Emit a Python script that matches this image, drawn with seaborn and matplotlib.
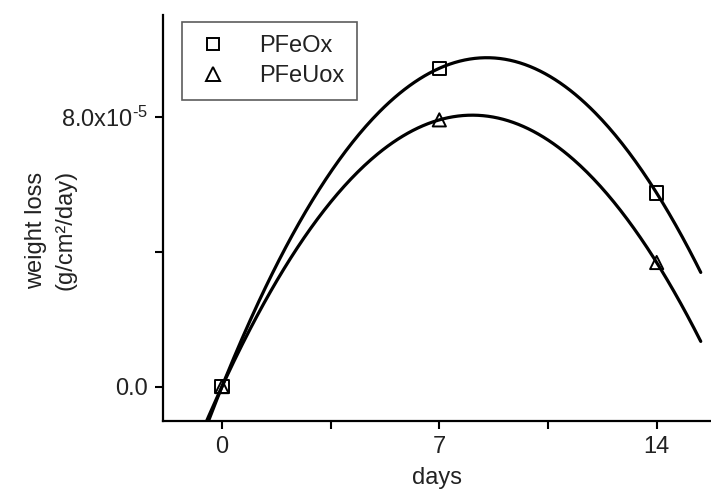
import numpy as np
import pandas as pd
import matplotlib
matplotlib.use("Agg")
import matplotlib.pyplot as plt
from matplotlib.ticker import FixedLocator, FuncFormatter
from matplotlib.lines import Line2D
import seaborn as sns

# ---- data ----
days = [0, 7, 14]
pfeox = [0.0, 9.44e-5, 5.74e-5]
pfeuox = [0.0, 7.91e-5, 3.68e-5]
series_names = ["PFeOx", "PFeUox"]
x_tick_labels = {0: "0", 7: "7", 14: "14"}
y_tick_labels = {0.0: "0.0", 8e-5: r"8.0x10$^{\text{-5}}$"}

sns.set_theme(style="ticks")
plt.rcParams["font.family"] = ["Liberation Sans", "DejaVu Sans"]
plt.rcParams["mathtext.fontset"] = "custom"
plt.rcParams["mathtext.rm"] = "Liberation Sans"
plt.rcParams["mathtext.it"] = "Liberation Sans"

FS = 17
fig = plt.figure(figsize=(7.11, 4.91), dpi=100)
ax = fig.add_axes([163/711, 1-421/491, 1-163/711, (421-15)/491])

df = pd.DataFrame({"days": days * 2,
                   "loss": pfeox + pfeuox,
                   "series": [series_names[0]] * 3 + [series_names[1]] * 3})

# quadratic fits through the data
xs = np.linspace(-0.7, 15.42, 300)
fit_rows = []
for name, vals in zip(series_names, [pfeox, pfeuox]):
    c = np.polyfit(days, vals, 2)
    fit_rows.append(pd.DataFrame({"days": xs, "loss": np.polyval(c, xs), "series": name}))
fit = pd.concat(fit_rows)

sns.lineplot(data=fit, x="days", y="loss", units="series", estimator=None,
             color="black", linewidth=2.3, ax=ax, legend=False)
sns.scatterplot(data=df, x="days", y="loss", style="series",
                markers={"PFeOx": "s", "PFeUox": "^"}, s=90,
                facecolor="none", edgecolor="black", linewidth=1.4,
                ax=ax, legend=False, zorder=5)

ax.set_xlim(-1.9, 15.75)
ax.set_ylim(-1.02e-5, 11.02e-5)

ax.xaxis.set_major_locator(FixedLocator([0, 3.5, 7, 10.5, 14]))
ax.xaxis.set_major_formatter(FuncFormatter(lambda v, p: x_tick_labels.get(v, "")))
ax.yaxis.set_major_locator(FixedLocator([0.0, 4e-5, 8e-5]))
ax.yaxis.set_major_formatter(FuncFormatter(
    lambda v, p: y_tick_labels.get(0.0 if abs(v) < 1e-9 else (8e-5 if abs(v-8e-5) < 1e-9 else None), "")))

ax.tick_params(axis="both", direction="out", length=6, width=1.5, labelsize=FS,
               color="black", labelcolor="#222222", pad=5)
for side in ["top", "right"]:
    ax.spines[side].set_visible(False)
for side in ["left", "bottom"]:
    ax.spines[side].set_linewidth(1.6)
    ax.spines[side].set_color("black")

ax.set_xlabel("days", fontsize=FS, color="#222222", labelpad=6)
ax.set_ylabel("weight loss\n(g/cm²/day)", fontsize=FS, color="#222222", linespacing=1.45)
ax.yaxis.set_label_coords(-0.158, 0.47)

handles = [Line2D([], [], linestyle="none", marker="s", markersize=9, markerfacecolor="none",
                  markeredgecolor="black", markeredgewidth=1.4),
           Line2D([], [], linestyle="none", marker="^", markersize=9.5, markerfacecolor="none",
                  markeredgecolor="black", markeredgewidth=1.4)]
leg = ax.legend(handles, series_names, loc="upper left", bbox_to_anchor=(0.035, 0.983),
                borderaxespad=0, fontsize=FS, frameon=True, fancybox=False,
                handletextpad=1.2, borderpad=0.55, labelspacing=0.35, handlelength=1.5)
leg.get_frame().set_edgecolor("#333333")
leg.get_frame().set_linewidth(1.2)
for t in leg.get_texts():
    t.set_color("#222222")

fig.savefig("out.png", dpi=100)
